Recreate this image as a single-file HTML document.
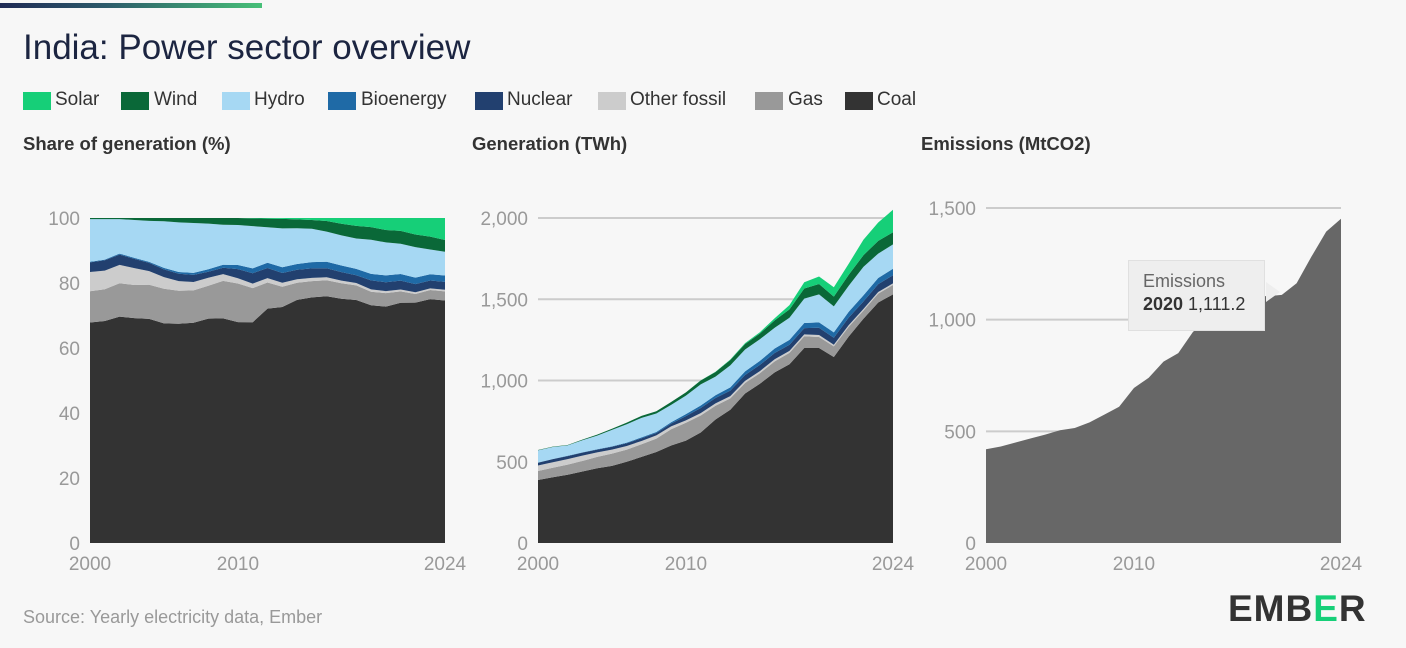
<!DOCTYPE html>
<html><head><meta charset="utf-8">
<style>
body{margin:0;background:#f7f7f7;font-family:"Liberation Sans",sans-serif;}
#root{position:relative;width:1406px;height:648px;overflow:hidden;background:#f7f7f7;}
.t{position:absolute;white-space:nowrap;}
.sq{position:absolute;width:28px;height:18px;top:92px;}
.leg{position:absolute;top:89px;font-size:19px;color:#333;}
.sub{position:absolute;top:133px;font-size:18.5px;color:#333;font-weight:bold;}
svg{position:absolute;left:0;top:0;}
</style></head><body>
<div id="root">
<div style="position:absolute;left:0;top:3px;width:262px;height:5px;background:linear-gradient(90deg,#1f2a55,#2c5a6a 40%,#47c078);"></div>
<div class="t" style="left:23px;top:28px;font-size:35px;color:#1c2541;">India: Power sector overview</div>

<div class="sq" style="left:23px;background:#16cf78"></div><div class="leg" style="left:55px">Solar</div>
<div class="sq" style="left:121px;background:#0a6838"></div><div class="leg" style="left:154px">Wind</div>
<div class="sq" style="left:222px;background:#a6d8f3"></div><div class="leg" style="left:254px">Hydro</div>
<div class="sq" style="left:328px;background:#1f6aa6"></div><div class="leg" style="left:361px">Bioenergy</div>
<div class="sq" style="left:475px;background:#22406f"></div><div class="leg" style="left:507px">Nuclear</div>
<div class="sq" style="left:598px;background:#cccccc"></div><div class="leg" style="left:630px">Other fossil</div>
<div class="sq" style="left:755px;background:#999999"></div><div class="leg" style="left:788px">Gas</div>
<div class="sq" style="left:845px;background:#333333"></div><div class="leg" style="left:877px">Coal</div>

<div class="sub" style="left:23px">Share of generation (%)</div>
<div class="sub" style="left:472px">Generation (TWh)</div>
<div class="sub" style="left:921px">Emissions (MtCO2)</div>

<svg id="svg" width="1406" height="648"></svg>

<div class="t" style="left:1128px;top:260px;width:137px;height:71px;background:#eeeeee;border:1px solid #e0e0e0;box-sizing:border-box;">
<div style="position:absolute;left:14px;top:10px;font-size:18px;color:#666">Emissions</div>
<div style="position:absolute;left:14px;top:33px;font-size:18px;color:#333"><b>2020</b> 1,111.2</div>
</div>

<div class="t" style="left:23px;top:607px;font-size:18px;color:#999">Source: Yearly electricity data, Ember</div>
<div class="t" style="left:1228px;top:588px;font-size:37px;font-weight:bold;color:#333;letter-spacing:1px;">EMB<span style="color:#16cf78">E</span>R</div>
</div>
<script>
const years=[2000,2001,2002,2003,2004,2005,2006,2007,2008,2009,2010,2011,2012,2013,2014,2015,2016,2017,2018,2019,2020,2021,2022,2023,2024];
const coal=[388,405,420,440,460,475,500,530,560,600,630,680,760,820,920,980,1050,1100,1200,1200,1145,1270,1380,1480,1530];
const gas=[55,58,62,65,70,75,75,78,82,100,110,105,85,70,65,65,68,70,72,68,65,60,50,55,58];
const otherFossil=[34,34,34,33,28,25,22,20,20,18,15,14,14,14,13,13,13,12,12,12,10,10,10,10,10];
const nuclear=[17,19,19,18,17,17,17,17,15,17,26,32,33,34,36,38,38,38,38,45,43,47,46,48,50];
const bioenergy=[1,1,2,2,2,3,4,5,6,8,12,15,17,20,22,25,28,30,32,33,33,35,38,38,40];
const hydro=[75,74,64,74,84,101,113,120,114,107,114,130,115,135,135,133,128,136,150,172,160,160,175,150,150];
const wind=[2,2,2,4,6,7,10,12,14,18,20,24,28,33,34,35,45,52,62,64,60,68,72,78,74];
const solar=[0,0,0,0,0,0,0,0,0,0,0,1,2,3,5,8,13,26,39,46,58,68,95,113,139];
const emissions=[420,432,450,468,485,505,515,540,575,610,694,740,812,850,946,990,1020,1060,1110,1105,1111.2,1163,1282,1394,1452];
const shareTicks=[0,20,40,60,80,100];
const genTicks=[0,500,1000,1500,2000];
const genTickLabels=["0","500","1,000","1,500","2,000"];
const emTicks=[0,500,1000,1500];
const emTickLabels=["0","500","1,000","1,500"];
const xTicks=[2000,2010,2024];

const NS="http://www.w3.org/2000/svg";
const svg=document.getElementById('svg');
function el(tag,attrs){const e=document.createElementNS(NS,tag);for(const k in attrs)e.setAttribute(k,attrs[k]);svg.appendChild(e);return e;}
const series=[coal,gas,otherFossil,nuclear,bioenergy,hydro,wind,solar];
const names=['coal','gas','other-fossil','nuclear','bioenergy','hydro','wind','solar'];
const colors=['#333333','#999999','#cccccc','#22406f','#1f6aa6','#a6d8f3','#0a6838','#16cf78'];
const totals=years.map((_,i)=>series.reduce((s,a)=>s+a[i],0));

function makeX(x0,x1){return y=>x0+(y-2000)/(2024-2000)*(x1-x0);}
function makeY(max,top){return v=>543-v/max*(543-top);}

function axis(prefix,x,y,ticks,labels,x0,x1,grid){
  ticks.forEach((t,i)=>{
    if(grid&&t>0){const g=el('line',{x1:x0,x2:x1,y1:y(t),y2:y(t),stroke:'#cccccc','stroke-width':2});
      }
    const tx=el('text',{x:x0-10,y:y(t)+7,'text-anchor':'end','font-size':19,fill:'#999','font-family':'Liberation Sans, sans-serif'});
    tx.textContent=labels[i];
    
  });
  xTicks.forEach(yr=>{
    const tx=el('text',{x:x(yr),y:570,'text-anchor':'middle','font-size':19,fill:'#999','font-family':'Liberation Sans, sans-serif'});
    tx.textContent=yr;
    
  });
}
function stacked(prefix,x,y,vals){
  let base=years.map(()=>0);
  vals.forEach((arr,k)=>{
    const top=base.map((b,i)=>b+arr[i]);
    let d='M'+years.map((yr,i)=>x(yr)+','+y(top[i])).join('L');
    for(let i=years.length-1;i>=0;i--)d+='L'+x(years[i])+','+y(base[i]);
    const p=el('path',{d:d+'Z',fill:colors[k]});
    
    
    base=top;
  });
}
{const x=makeX(90,445),y=makeY(100,218);
 axis('share',x,y,shareTicks,shareTicks.map(String),90,445,false);
 stacked('share',x,y,series.map(a=>a.map((v,i)=>v/totals[i]*100)));}
{const x=makeX(538,893),y=makeY(2000,218);
 axis('generation',x,y,genTicks,genTickLabels,538,893,true);
 stacked('generation',x,y,series);}
{const x=makeX(986,1341),y=makeY(1500,208);
 axis('emissions',x,y,emTicks,emTickLabels,986,1341,true);
 let d='M'+years.map((yr,i)=>x(yr)+','+y(emissions[i])).join('L')+'L'+x(2024)+','+y(0)+'L'+x(2000)+','+y(0)+'Z';
 const p=el('path',{d:d,fill:'#676767'});
 
 
 const ptr=el('path',{d:'M1266,282 L1280,292 L1266,302 Z',fill:'#eeeeee'});
 
 }
</script>
</body></html>
